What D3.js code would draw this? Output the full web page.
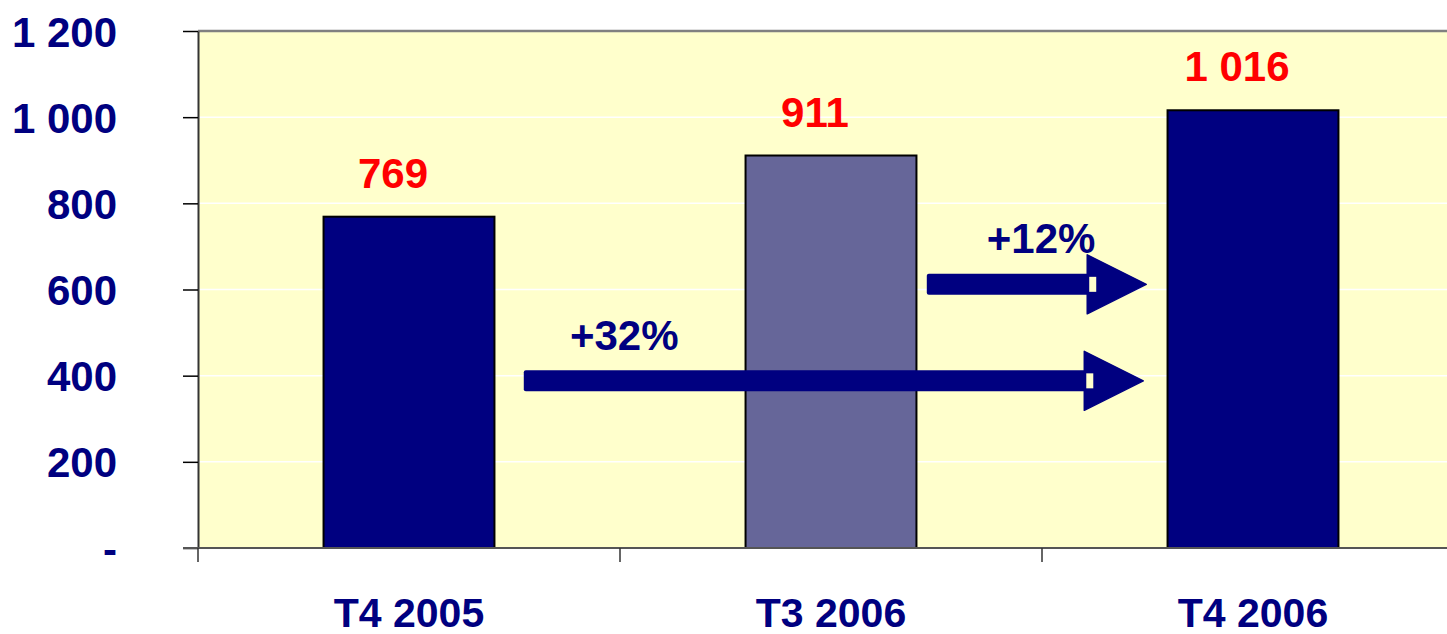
<!DOCTYPE html>
<html>
<head>
<meta charset="utf-8">
<script src="https://cdn.jsdelivr.net/npm/d3@7"></script>
<style>
  html, body { margin: 0; padding: 0; background: #ffffff; }
  svg { display: block; }
  text { font-family: "Liberation Sans", Arial, sans-serif; font-weight: bold; }
</style>
</head>
<body>
<svg id="chart" width="1447" height="634"></svg>
<script>
// ---- data ----
const categories = ["T4 2005", "T3 2006", "T4 2006"];
const values = [769, 911, 1016];
const barColors = ["#000080", "#666699", "#000080"];
const yTicks = [0, 200, 400, 600, 800, 1000, 1200];
// growth arrows: positions in category units (0 = left edge of plot) and value level
const arrowLabels = ["+32%", "+12%"];
const arrowFrom = [0.772, 1.727];
const arrowTo = [2.24, 2.247];
const arrowLevel = [388, 612];
const arrowLabelPos = [1.01, 1.998];
const arrowLabelLevel = [459, 685];

// ---- layout ----
const svg = d3.select("#chart");
const plotLeft = 198, plotTop = 31, plotBottom = 548;
const step = 422;
const plotRight = plotLeft + step * categories.length;
const bg = "#FFFFCC";

const y = d3.scaleLinear().domain([0, 1200]).range([plotBottom, plotTop]);
const x = d3.scaleBand().domain(categories).range([plotLeft, plotRight])
  .paddingInner(0.595).paddingOuter(0.2975);
const xu = d3.scaleLinear().domain([0, categories.length]).range([plotLeft, plotRight]);

// plot background
svg.append("rect").attr("x", plotLeft).attr("y", plotTop)
  .attr("width", plotRight - plotLeft).attr("height", plotBottom - plotTop).attr("fill", bg);

// gridlines
svg.append("g").selectAll("line").data(yTicks.filter(d => d > 0 && d < 1200)).join("line")
  .attr("x1", plotLeft).attr("x2", plotRight)
  .attr("y1", d => y(d)).attr("y2", d => y(d))
  .attr("stroke", "#ffffff").attr("stroke-width", 1.5);

// top border
svg.append("line").attr("x1", plotLeft).attr("x2", plotRight).attr("y1", plotTop).attr("y2", plotTop)
  .attr("stroke", "#808080").attr("stroke-width", 2.5);

// bars
svg.append("g").selectAll("rect").data(values).join("rect")
  .attr("x", (d, i) => x(categories[i]))
  .attr("y", d => y(d))
  .attr("width", x.bandwidth())
  .attr("height", d => plotBottom - y(d))
  .attr("fill", (d, i) => barColors[i])
  .attr("stroke", "#000000").attr("stroke-width", 2);

// value labels
svg.append("g").selectAll("text").data(values).join("text")
  .attr("x", (d, i) => x(categories[i]) + x.bandwidth() / 2 - 16)
  .attr("y", d => y(d) - 29)
  .attr("text-anchor", "middle")
  .attr("font-size", 42)
  .attr("fill", "#FF0000")
  .text(d => d3.format(",")(d).replace(/,/g, " "));

// arrows
const shaftH = 21, headL = 59, headHalf = 29.5;
const arrowG = svg.append("g");
arrowLabels.forEach((lab, i) => {
  const x0 = xu(arrowFrom[i]), x1 = xu(arrowTo[i]);
  const yc = y(arrowLevel[i]);
  const xb = x1 - headL;
  arrowG.append("rect")
    .attr("x", x0).attr("y", yc - shaftH / 2)
    .attr("width", xb - x0 + 2).attr("height", shaftH)
    .attr("rx", 2).attr("fill", "#000080");
  arrowG.append("path")
    .attr("d", `M${xb},${yc - headHalf} L${x1},${yc} L${xb},${yc + headHalf} Z`)
    .attr("fill", "#000080").attr("stroke", "#000080").attr("stroke-linejoin", "round").attr("stroke-width", 1.5);
  arrowG.append("rect")
    .attr("x", xb + 2).attr("y", yc - 7.5)
    .attr("width", 7).attr("height", 15).attr("fill", bg);
  arrowG.append("text")
    .attr("x", xu(arrowLabelPos[i])).attr("y", y(arrowLabelLevel[i]))
    .attr("text-anchor", "middle").attr("font-size", 42).attr("fill", "#000080")
    .text(lab);
});

// y axis
const yAxis = d3.axisLeft(y).tickValues(yTicks).tickSize(15).tickSizeOuter(0).tickPadding(66)
  .tickFormat(d => d === 0 ? "-" : d3.format(",")(d).replace(/,/g, " "));
const gy = svg.append("g").attr("transform", `translate(${plotLeft},0)`).call(yAxis);
gy.select(".domain").attr("stroke", "#333333").attr("stroke-width", 2);
gy.selectAll(".tick line").attr("stroke", "#000000").attr("stroke-width", 1.5);
gy.selectAll(".tick text").attr("font-size", 42).attr("fill", "#000080")
  .attr("font-family", "Liberation Sans, Arial, sans-serif").attr("font-weight", "bold")
  .attr("dy", "0.36em");

// x axis (labels)
const xAxis = d3.axisBottom(x).tickSize(0).tickPadding(50).tickSizeOuter(0);
const gx = svg.append("g").attr("transform", `translate(0,${plotBottom})`).call(xAxis);
gx.select(".domain").remove();
gx.selectAll(".tick text").attr("font-size", 41).attr("fill", "#000080")
  .attr("font-family", "Liberation Sans, Arial, sans-serif").attr("font-weight", "bold");

// x axis line and boundary ticks
svg.append("line").attr("x1", plotLeft - 15).attr("x2", plotRight).attr("y1", plotBottom).attr("y2", plotBottom)
  .attr("stroke", "#555555").attr("stroke-width", 2);
svg.append("g").selectAll("line").data(d3.range(categories.length)).join("line")
  .attr("x1", i => xu(i)).attr("x2", i => xu(i))
  .attr("y1", plotBottom).attr("y2", plotBottom + 14)
  .attr("stroke", "#333333").attr("stroke-width", 1.5);
</script>
</body>
</html>
